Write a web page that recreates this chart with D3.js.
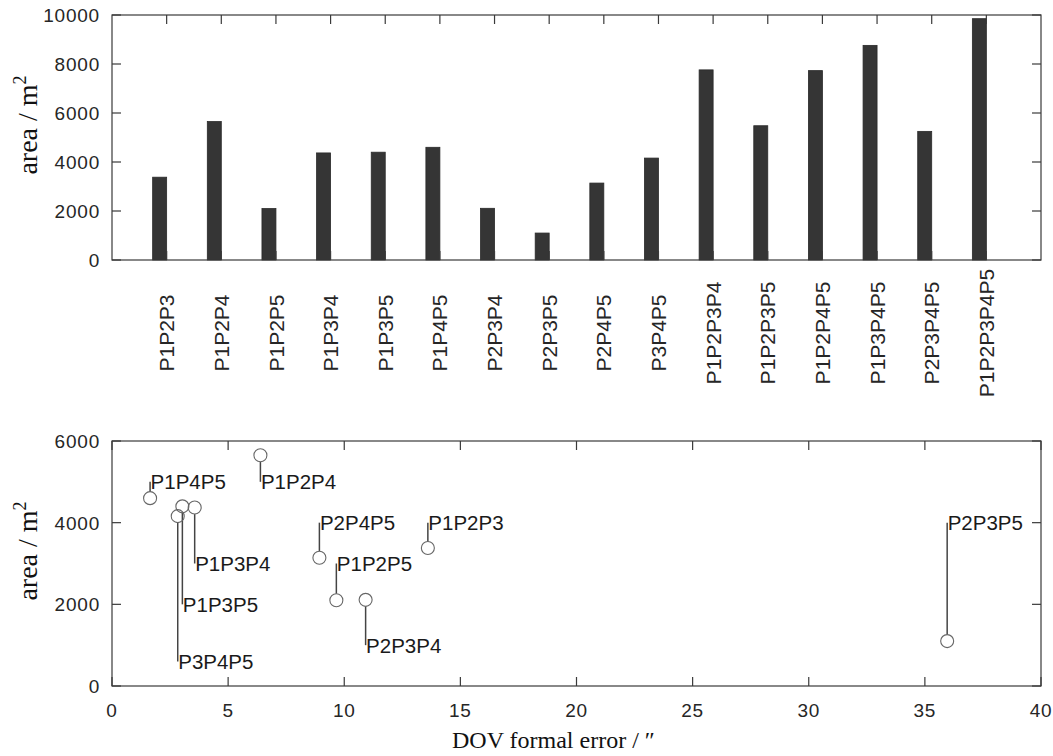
<!DOCTYPE html>
<html><head><meta charset="utf-8">
<script src="https://cdn.jsdelivr.net/npm/d3@7"></script>
<style>body{margin:0;background:#fff}svg{display:block}</style>
</head><body>
<svg id="c" width="1053" height="756"></svg>
<script>
// ---- data ----
const combos = ["P1P2P3","P1P2P4","P1P2P5","P1P3P4","P1P3P5","P1P4P5","P2P3P4","P2P3P5","P2P4P5","P3P4P5",
  "P1P2P3P4","P1P2P3P5","P1P2P4P5","P1P3P4P5","P2P3P4P5","P1P2P3P4P5"];
const areas = [3380,5650,2100,4370,4400,4600,2110,1100,3140,4160,7760,5480,7730,8760,5250,9850];
const triNames = ["P1P2P3","P1P2P4","P1P2P5","P1P3P4","P1P3P5","P1P4P5","P2P3P4","P2P3P5","P2P4P5","P3P4P5"];
const triDovError = [13.6,6.39,9.66,3.56,3.03,1.64,10.92,35.96,8.93,2.83];
const triLabelArea = [4000,5000,3000,3000,2000,5000,1000,4000,4000,600];
const topYTicks = [0,2000,4000,6000,8000,10000];
const botYTicks = [0,2000,4000,6000];
const botXTicks = [0,5,10,15,20,25,30,35,40];

const svg = d3.select("#c");
const axisCol = "#3a3a3a", textCol = "#262626";
const sans = "'Liberation Sans', Arial, Helvetica, sans-serif";
const serif = "'Liberation Serif', 'Times New Roman', serif";
const L = 112, R = 1041;
const tickFont = 19, tickSpacing = 0.8;

function box(g, x0, x1, y0, y1){
  g.append("rect").attr("x",x0).attr("y",y0).attr("width",x1-x0).attr("height",y1-y0)
   .attr("fill","none").attr("stroke",axisCol).attr("stroke-width",1.2);
}

// ---- top chart ----
const tT = 15, tB = 260;
const xT = d3.scaleLinear().domain([0, combos.length+1]).range([L,R]);
const yT = d3.scaleLinear().domain([0,10000]).range([tB,tT]);
const gT = svg.append("g");
const bw = 0.256;
gT.selectAll("rect.bar").data(areas).join("rect").attr("class","bar")
  .attr("x",(d,i)=>xT(i+1-bw)).attr("width",(d,i)=>xT(i+1)-xT(i+1-bw))
  .attr("y",d=>yT(d)).attr("height",d=>yT(0)-yT(d))
  .attr("fill","#353535").attr("stroke","#2a2a2a").attr("stroke-width",0.8);
box(gT, L, R, tT, tB);
const tickLen = 9;
combos.forEach((c,i)=>{
  const x = xT(i+1);
  gT.append("line").attr("x1",x).attr("x2",x).attr("y1",tT).attr("y2",tT+tickLen).attr("stroke",axisCol).attr("stroke-width",1.2);
  gT.append("line").attr("x1",x).attr("x2",x).attr("y1",tB).attr("y2",tB-tickLen).attr("stroke",axisCol).attr("stroke-width",1.2);
});
topYTicks.forEach(v=>{
  const y = yT(v);
  gT.append("line").attr("x1",L).attr("x2",L+tickLen).attr("y1",y).attr("y2",y).attr("stroke",axisCol).attr("stroke-width",1.2);
  gT.append("line").attr("x1",R).attr("x2",R-tickLen).attr("y1",y).attr("y2",y).attr("stroke",axisCol).attr("stroke-width",1.2);
  gT.append("text").attr("x",L-12).attr("y",y).attr("dy","0.36em").attr("text-anchor","end")
    .attr("font-family",sans).attr("font-size",tickFont).attr("letter-spacing",tickSpacing).attr("fill",textCol).text(v);
});
gT.selectAll("text.cat").data(combos).join("text").attr("class","cat")
  .attr("transform",(d,i)=>`translate(${xT(i+1)},333) rotate(-90)`)
  .attr("text-anchor","middle").attr("dy","0.36em")
  .attr("font-family",sans).attr("font-size",21).attr("fill",textCol).text(d=>d);
gT.append("text").attr("transform",`translate(37,125) rotate(-90)`).attr("text-anchor","middle")
  .attr("font-family",serif).attr("font-size",28).attr("fill","#111")
  .html("area / m<tspan dy='-11' font-size='18'>2</tspan>");

// ---- bottom chart ----
const bT = 441, bB = 686;
const xB = d3.scaleLinear().domain([0,40]).range([L,R]);
const yB = d3.scaleLinear().domain([0,6000]).range([bB,bT]);
const gB = svg.append("g");
box(gB, L, R, bT, bB);
botXTicks.forEach(v=>{
  const x = xB(v);
  gB.append("line").attr("x1",x).attr("x2",x).attr("y1",bT).attr("y2",bT+tickLen).attr("stroke",axisCol).attr("stroke-width",1.2);
  gB.append("line").attr("x1",x).attr("x2",x).attr("y1",bB).attr("y2",bB-tickLen).attr("stroke",axisCol).attr("stroke-width",1.2);
  gB.append("text").attr("x",x).attr("y",717).attr("text-anchor","middle")
    .attr("font-family",sans).attr("font-size",tickFont).attr("letter-spacing",tickSpacing).attr("fill",textCol).text(v);
});
botYTicks.forEach(v=>{
  const y = yB(v);
  gB.append("line").attr("x1",L).attr("x2",L+tickLen).attr("y1",y).attr("y2",y).attr("stroke",axisCol).attr("stroke-width",1.2);
  gB.append("line").attr("x1",R).attr("x2",R-tickLen).attr("y1",y).attr("y2",y).attr("stroke",axisCol).attr("stroke-width",1.2);
  gB.append("text").attr("x",L-12).attr("y",y).attr("dy","0.36em").attr("text-anchor","end")
    .attr("font-family",sans).attr("font-size",tickFont).attr("letter-spacing",tickSpacing).attr("fill",textCol).text(v);
});
const pts = triNames.map((n,i)=>({name:n, x:triDovError[i], y:areas[combos.indexOf(n)], ly:triLabelArea[i]}));
const r = 6.5;
gB.selectAll("line.lead").data(pts).join("line").attr("class","lead")
  .attr("x1",d=>xB(d.x)).attr("x2",d=>xB(d.x))
  .attr("y1",d=>yB(d.y) + (d.ly>d.y ? -r : r)).attr("y2",d=>yB(d.ly))
  .attr("stroke","#444").attr("stroke-width",1.5);
gB.selectAll("circle").data(pts).join("circle")
  .attr("cx",d=>xB(d.x)).attr("cy",d=>yB(d.y)).attr("r",r)
  .attr("fill","none").attr("stroke","#666").attr("stroke-width",1.1);
gB.selectAll("text.lbl").data(pts).join("text").attr("class","lbl")
  .attr("x",d=>xB(d.x)+0.5).attr("y",d=>yB(d.ly)).attr("dy","0.36em")
  .attr("font-family",sans).attr("font-size",20.5).attr("fill","#1a1a1a").text(d=>d.name);
gB.append("text").attr("transform",`translate(37,551) rotate(-90)`).attr("text-anchor","middle")
  .attr("font-family",serif).attr("font-size",28).attr("fill","#111")
  .html("area / m<tspan dy='-11' font-size='18'>2</tspan>");
gB.append("text").attr("x",452).attr("y",748).attr("text-anchor","start")
  .attr("font-family",serif).attr("font-size",24).attr("fill","#111")
  .text("DOV formal error /  \u2033");
</script>
</body></html>
